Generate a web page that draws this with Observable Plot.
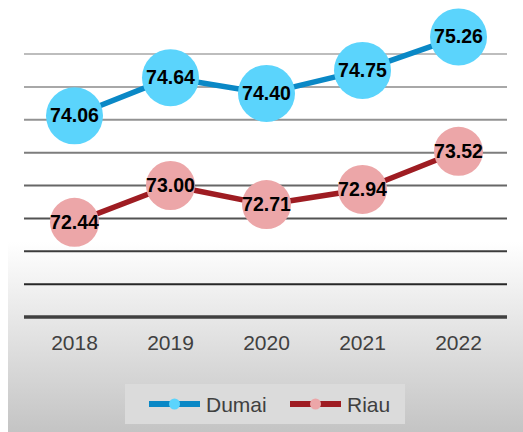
<!DOCTYPE html>
<html><head><meta charset="utf-8">
<script src="https://cdn.jsdelivr.net/npm/d3@7"></script>
<script src="https://cdn.jsdelivr.net/npm/@observablehq/plot@0.6"></script>
<style>
body{margin:0;background:#fff;font-family:"Liberation Sans",Arial,sans-serif;}
#wrap{position:relative;width:523px;height:432px;overflow:hidden}
#bg{position:absolute;left:8px;top:0;width:515px;height:432px;background:linear-gradient(to bottom,#ffffff 0%,#ffffff 56%,#c4c4c4 100%);}
#chart{position:absolute;left:0;top:0}
#legend{position:absolute;left:125px;top:384px;width:280px;height:40px;background:#dbdbdb;}
</style>
</head><body>
<div id="wrap"><div id="bg"></div><div id="chart"></div><div id="legend"></div></div>
<script>
const years = ["2018","2019","2020","2021","2022"];
const seriesNames = ["Dumai","Riau"];
const dumai = [74.06,74.64,74.40,74.75,75.26];
const riau = [72.44,73.00,72.71,72.94,73.52];
const gridTicks = [71.5,72,72.5,73,73.5,74,74.5,75];
const yMin = 71, yMax = 75;

const colors = {Dumai:{line:"#0a88c6", dot:"#5bd4fc", r:28.5}, Riau:{line:"#9e1c22", dot:"#eca6a8", r:24.5}};
const data = [
  ...years.map((y,i)=>({year:y, value:dumai[i], s:"Dumai"})),
  ...years.map((y,i)=>({year:y, value:riau[i], s:"Riau"}))
];
const gridColor = d3.scaleLinear().domain([yMin, yMax]).range(["#111111","#bdbdbd"]);

const chart = Plot.plot({
  width:523, height:432,
  marginLeft:24, marginRight:16, marginTop:53.5, marginBottom:115.5,
  style:{background:"transparent", fontFamily:"'Liberation Sans', Arial, sans-serif"},
  x:{type:"point", domain:years, padding:0.5, axis:null},
  y:{domain:[yMin,yMax], axis:null},
  marks:[
    Plot.ruleY(gridTicks, {stroke:d=>gridColor(d), strokeWidth:2}),
    Plot.ruleY([yMin], {stroke:"#404040", strokeWidth:3.5}),
    Plot.axisX({tickSize:0, tickPadding:18, fontSize:21, color:"#404040", fill:"#404040", label:null}),
    ...seriesNames.map(n=>Plot.line(data.filter(d=>d.s===n), {x:"year", y:"value", stroke:colors[n].line, strokeWidth:5.5})),
    ...seriesNames.map(n=>Plot.dot(data.filter(d=>d.s===n), {x:"year", y:"value", r:colors[n].r, fill:colors[n].dot, stroke:null})),
    Plot.text(data, {x:"year", y:"value", text:d=>d.value.toFixed(2), fontSize:19.5, fontWeight:"bold", fill:"#000"})
  ]
});
document.getElementById("chart").appendChild(chart);

// legend
const lg = d3.select("#legend").append("svg").attr("width",280).attr("height",40)
  .style("font-family","'Liberation Sans', Arial, sans-serif");
const legendX = [24, 165];
seriesNames.forEach((n,i)=>{
  const g = lg.append("g").attr("transform",`translate(${legendX[i]},20)`);
  g.append("line").attr("x1",0).attr("x2",51).attr("y1",0).attr("y2",0).attr("stroke",colors[n].line).attr("stroke-width",6);
  g.append("circle").attr("cx",25.5).attr("cy",0).attr("r",5.5).attr("fill",colors[n].dot);
  g.append("text").attr("x",57).attr("y",0).attr("dy","0.36em").attr("font-size",21).attr("fill","#404040").text(n);
});
</script>
</body></html>
